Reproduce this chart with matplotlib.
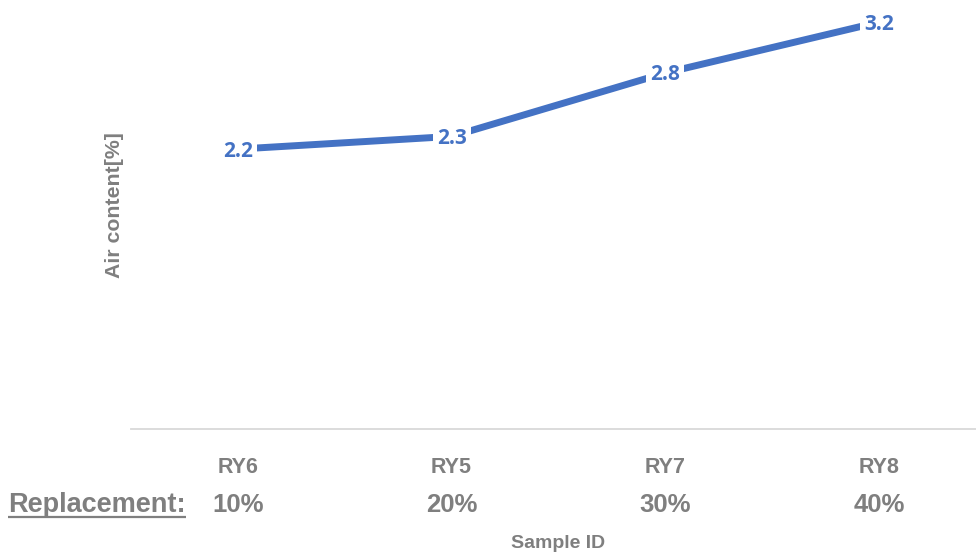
import matplotlib
matplotlib.use("Agg")
import matplotlib.pyplot as plt
from matplotlib.transforms import blended_transform_factory
from matplotlib.lines import Line2D

# Data
samples = ["RY6", "RY5", "RY7", "RY8"]
replacement = ["10%", "20%", "30%", "40%"]
air_content = [2.2, 2.3, 2.8, 3.2]

W, H = 976, 555
BLUE = "#4472C4"
GREY = "#7F7F7F"
SANS = ["Liberation Sans", "DejaVu Sans"]

fig = plt.figure(figsize=(W / 100, H / 100), dpi=100)
ax_bottom_px = 428.5
ax = fig.add_axes([131 / W, (H - ax_bottom_px) / H, 855 / W, ax_bottom_px / H])

x = list(range(len(samples)))
ax.plot(x, air_content, color=BLUE, lw=5.0, solid_capstyle="butt",
        solid_joinstyle="miter", zorder=2)

for xi, v in zip(x, air_content):
    ax.annotate(f"{v:.1f}", (xi, v), xytext=(0, -1.5), textcoords="offset points",
                ha="center", va="center", fontsize=15, fontweight="bold",
                family=["Open Sans", "DejaVu Sans"], color=BLUE,
                bbox=dict(boxstyle="square,pad=0.2", fc="white", ec="none"),
                zorder=3)

ax.set_xlim(-0.5, 3.5)
ax.set_ylim(0, 3.374)
for side in ["top", "right", "left"]:
    ax.spines[side].set_visible(False)
ax.spines["bottom"].set_color("#D9D9D9")
ax.spines["bottom"].set_linewidth(1.3)
ax.set_yticks([])
ax.set_xticks(x)
ax.set_xticklabels([])
ax.tick_params(axis="x", length=0)
ax.set_facecolor("none")

# category labels: sample IDs and replacement levels, at data x positions
trans = blended_transform_factory(ax.transData, fig.transFigure)
for xi, name, rep in zip(x, samples, replacement):
    ax.text(xi, (H - 473) / H, name, transform=trans, ha="center", va="baseline",
            fontsize=15.5, fontweight="bold", color=GREY, family=SANS, clip_on=False)
    ax.text(xi, (H - 511.5) / H, rep, transform=trans, ha="center", va="baseline",
            fontsize=18.5, fontweight="bold", color=GREY, family=SANS, clip_on=False)

# row caption with underline
cap = fig.text(8 / W, (H - 511.5) / H, "Replacement:", ha="left", va="baseline",
               fontsize=19.5, fontweight="bold", color=GREY, family=SANS)
fig.canvas.draw()
bb = cap.get_window_extent()
uy = (H - 516.5) / H
fig.add_artist(Line2D([bb.x0 / W, bb.x1 / W], [uy, uy], color=GREY, lw=1.6,
                      solid_capstyle="butt"))

# axis titles
fig.text((131 + 855 / 2) / W, (H - 548) / H, "Sample ID", ha="center", va="baseline",
         fontsize=14, fontweight="bold", color=GREY, family=SANS)
fig.text(115 / W, (H - 205.5) / H, "Air content[%]", ha="center", va="center",
         rotation=90, fontsize=15.3, fontweight="bold", color=GREY, family=SANS)

fig.savefig("out.png", dpi=100, facecolor="white")
